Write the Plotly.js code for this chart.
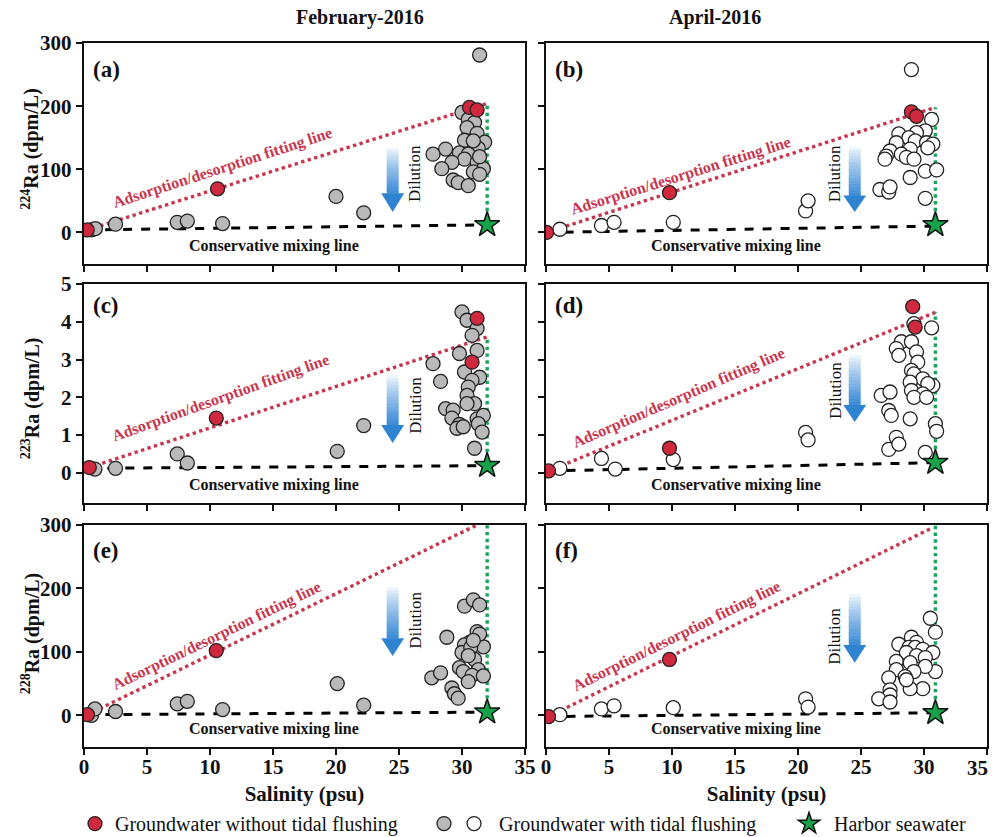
<!DOCTYPE html>
<html><head><meta charset="utf-8">
<script src="https://cdn.plot.ly/plotly-3.0.1.min.js"></script>
<style>html,body{margin:0;padding:0;background:#fff}#chart{width:992px;height:837px}</style>
</head><body><div id="chart"></div>
<script>
// ---------------- DATA ----------------
// Panel (a) Feb-2016, 224Ra
const a_noTidal_sal = [0.25, 10.6, 30.6, 31.2];
const a_noTidal_ra  = [4, 69, 198, 194];
const a_tidal_sal = [0.6, 0.9, 2.5, 7.4, 8.2, 11.0, 20.0, 22.2, 31.4,
  30.0, 30.5, 31.0, 30.4, 31.2, 30.2, 31.8, 31.3, 29.8, 28.7, 27.7, 30.5, 30.2, 31.2, 29.2,
  28.4, 31.7, 30.9, 31.4, 29.3, 29.7, 30.5, 31.4, 30.9];
const a_tidal_ra = [4, 6, 13, 16, 18, 14, 57, 31, 281,
  190, 179, 174, 166, 157, 146, 143, 133, 126, 132, 124, 124, 116, 111, 111,
  101, 101, 96, 92, 83, 79, 74, 120, 145];
const a_sea_sal = [32.0], a_sea_ra = [12];
const a_fit_sal = [0.25, 32.1], a_fit_ra = [4, 205];
const a_mix_sal = [0.25, 32.0], a_mix_ra = [4, 12];
const a_vert_sal = [32.0, 32.0], a_vert_ra = [12, 205];

// Panel (b) Apr-2016, 224Ra
const b_noTidal_sal = [0.05, 9.8, 29.0, 29.4];
const b_noTidal_ra  = [0, 63, 191, 184];
const b_tidal_sal = [1.1, 4.4, 5.4, 10.1, 20.6, 20.8, 26.5, 27.2, 27.3, 29.0, 30.1, 28.9, 30.1, 31.0,
  30.6, 30.1, 29.4, 28.0, 28.8, 27.8, 29.3, 30.2, 30.7, 30.3, 27.3, 28.9, 28.2, 27.0, 28.6, 29.2, 26.9];
const b_tidal_ra = [5, 11, 16, 16, 34, 50, 68, 64, 72, 258, 54, 87, 97, 99,
  179, 161, 158, 156, 150, 142, 145, 142, 140, 134, 129, 132, 124, 121, 119, 116, 116];
const b_sea_sal = [30.9], b_sea_ra = [12];
const b_fit_sal = [0.05, 30.9], b_fit_ra = [0, 198];
const b_mix_sal = [0.05, 30.9], b_mix_ra = [0, 10];
const b_vert_sal = [30.9, 30.9], b_vert_ra = [12, 198];

// Panel (c) Feb-2016, 223Ra
const c_noTidal_sal = [0.42, 10.5, 31.2, 30.8];
const c_noTidal_ra  = [0.14, 1.45, 4.09, 2.93];
const c_tidal_sal = [0.87, 2.5, 7.4, 8.2, 20.1, 22.2, 27.7, 28.3,
  30.0, 30.4, 31.2, 30.8, 31.2, 29.8, 31.4, 30.2, 30.8, 30.5, 30.4, 31.0, 30.4, 28.7, 29.3,
  29.2, 29.8, 29.6, 30.1, 31.2, 31.7, 31.3, 31.6, 31.0];
const c_tidal_ra = [0.10, 0.12, 0.50, 0.26, 0.57, 1.25, 2.89, 2.42,
  4.26, 4.04, 3.82, 3.64, 3.24, 3.16, 2.53, 2.67, 2.45, 2.27, 2.05, 1.83, 1.83, 1.70, 1.66,
  1.45, 1.28, 1.18, 1.22, 1.43, 1.52, 1.30, 1.08, 0.65];
const c_sea_sal = [32.0], c_sea_ra = [0.19];
const c_fit_sal = [0.42, 32.0], c_fit_ra = [0.14, 3.6];
const c_mix_sal = [0.42, 32.0], c_mix_ra = [0.12, 0.19];
const c_vert_sal = [32.0, 32.0], c_vert_ra = [0.19, 3.6];

// Panel (d) Apr-2016, 223Ra
const d_noTidal_sal = [0.2, 9.8, 29.1, 29.3];
const d_noTidal_ra  = [0.05, 0.65, 4.40, 3.86];
const d_tidal_sal = [1.1, 4.4, 5.5, 10.1, 20.6, 20.8, 26.6, 27.3, 27.2, 27.4, 27.8, 27.2, 28.0, 28.9,
  30.1, 30.6, 30.9, 31.0, 30.7, 29.2, 28.2, 29.0, 27.8, 28.0, 29.4, 29.5, 29.0, 29.2, 29.9,
  28.9, 30.3, 29.0, 29.9, 29.2, 30.2];
const d_tidal_ra = [0.12, 0.38, 0.10, 0.35, 1.07, 0.87, 2.05, 2.14, 1.65, 1.52, 0.94, 0.62, 0.76, 1.43,
  0.54, 3.84, 1.30, 1.10, 2.31, 3.95, 3.47, 3.47, 3.29, 3.11, 3.20, 2.93, 2.71, 2.62, 2.49,
  2.40, 2.36, 2.18, 2.09, 2.00, 2.00];
const d_sea_sal = [30.9], d_sea_ra = [0.27];
const d_fit_sal = [0.2, 30.9], d_fit_ra = [0.05, 4.25];
const d_mix_sal = [0.2, 30.9], d_mix_ra = [0.05, 0.27];
const d_vert_sal = [30.9, 30.9], d_vert_ra = [0.27, 4.25];

// Panel (e) Feb-2016, 228Ra
const e_noTidal_sal = [0.27, 10.5];
const e_noTidal_ra  = [1, 102];
const e_tidal_sal = [0.6, 0.87, 2.5, 7.4, 8.2, 11.0, 20.1, 22.2, 27.6, 28.3, 28.8,
  30.2, 30.9, 31.4, 31.2, 30.6, 31.7, 30.2, 30.0, 30.7, 31.0, 30.5, 29.8, 30.1, 31.3, 30.8,
  31.7, 30.5, 29.2, 29.4, 29.7, 31.4, 30.9];
const e_tidal_ra = [0, 10, 6, 18, 22, 9, 50, 16, 59, 67, 123,
  172, 182, 174, 132, 115, 108, 111, 99, 107, 88, 94, 75, 69, 72, 63,
  62, 53, 43, 34, 27, 128, 118];
const e_sea_sal = [32.0], e_sea_ra = [5];
const e_fit_sal = [0.27, 31.2], e_fit_ra = [1, 300];
const e_mix_sal = [0.27, 32.0], e_mix_ra = [1, 5];
const e_vert_sal = [32.0, 32.0], e_vert_ra = [5, 300];

// Panel (f) Apr-2016, 228Ra
const f_noTidal_sal = [0.2, 9.8];
const f_noTidal_ra  = [-2, 88];
const f_tidal_sal = [1.1, 4.4, 5.4, 10.1, 20.6, 20.8, 30.5, 30.9, 29.0, 29.4, 28.0, 28.8, 29.3, 29.9,
  30.7, 28.6, 29.4, 30.1, 27.8, 28.9, 30.9, 30.1, 27.8, 29.2, 27.2, 28.5, 29.9, 28.9, 27.3,
  27.3, 26.4, 27.3, 28.6];
const f_tidal_ra = [1, 10, 15, 12, 26, 13, 153, 131, 123, 115, 112, 107, 107, 104,
  99, 99, 94, 91, 85, 83, 69, 77, 72, 69, 59, 61, 42, 42, 40,
  32, 26, 21, 56];
const f_sea_sal = [30.9], f_sea_ra = [4];
const f_fit_sal = [0.2, 30.6], f_fit_ra = [-2, 295];
const f_mix_sal = [0.2, 30.9], f_mix_ra = [-2, 4];
const f_vert_sal = [30.9, 30.9], f_vert_ra = [4, 300];

const xTicks = [0, 5, 10, 15, 20, 25, 30, 35];
const yTicksBig = [0, 100, 200, 300];
const yTicksSmall = [0, 1, 2, 3, 4, 5];
const panelLabels = ['(a)', '(b)', '(c)', '(d)', '(e)', '(f)'];
const columnTitles = ['February-2016', 'April-2016'];
const yTitles = ['<sup>224</sup>Ra (dpm/L)', '<sup>223</sup>Ra (dpm/L)', '<sup>228</sup>Ra (dpm/L)'];
const legendNames = ['Groundwater without tidal flushing', 'Groundwater with tidal flushing', 'Harbor seawater'];

// ---------------- STYLE ----------------
const SERIF = 'Liberation Serif, Times New Roman, serif';
const RED = '#d0283c', GREY = '#b9b9b9', GREEN = '#17a34a', FITRED = '#c8364e', VGREEN = '#1aa35a';

const panels = [
  {nt:[a_noTidal_sal,a_noTidal_ra], t:[a_tidal_sal,a_tidal_ra], s:[a_sea_sal,a_sea_ra], fit:[a_fit_sal,a_fit_ra], mix:[a_mix_sal,a_mix_ra], v:[a_vert_sal,a_vert_ra], fill:GREY},
  {nt:[b_noTidal_sal,b_noTidal_ra], t:[b_tidal_sal,b_tidal_ra], s:[b_sea_sal,b_sea_ra], fit:[b_fit_sal,b_fit_ra], mix:[b_mix_sal,b_mix_ra], v:[b_vert_sal,b_vert_ra], fill:'#ffffff'},
  {nt:[c_noTidal_sal,c_noTidal_ra], t:[c_tidal_sal,c_tidal_ra], s:[c_sea_sal,c_sea_ra], fit:[c_fit_sal,c_fit_ra], mix:[c_mix_sal,c_mix_ra], v:[c_vert_sal,c_vert_ra], fill:GREY},
  {nt:[d_noTidal_sal,d_noTidal_ra], t:[d_tidal_sal,d_tidal_ra], s:[d_sea_sal,d_sea_ra], fit:[d_fit_sal,d_fit_ra], mix:[d_mix_sal,d_mix_ra], v:[d_vert_sal,d_vert_ra], fill:'#ffffff'},
  {nt:[e_noTidal_sal,e_noTidal_ra], t:[e_tidal_sal,e_tidal_ra], s:[e_sea_sal,e_sea_ra], fit:[e_fit_sal,e_fit_ra], mix:[e_mix_sal,e_mix_ra], v:[e_vert_sal,e_vert_ra], fill:GREY},
  {nt:[f_noTidal_sal,f_noTidal_ra], t:[f_tidal_sal,f_tidal_ra], s:[f_sea_sal,f_sea_ra], fit:[f_fit_sal,f_fit_ra], mix:[f_mix_sal,f_mix_ra], v:[f_vert_sal,f_vert_ra], fill:'#ffffff'}
];

const traces = [];
panels.forEach((p, i) => {
  const xa = i === 0 ? 'x' : 'x' + (i + 1);
  const ya = i === 0 ? 'y' : 'y' + (i + 1);
  const base = {xaxis: xa, yaxis: ya, hoverinfo: 'skip'};
  traces.push(Object.assign({type:'scatter', mode:'lines', x:p.fit[0], y:p.fit[1], showlegend:false,
    line:{color:FITRED, width:3.4, dash:'dot'}}, base));
  traces.push(Object.assign({type:'scatter', mode:'lines', x:p.mix[0], y:p.mix[1], showlegend:false,
    line:{color:'#000', width:3, dash:'dash'}}, base));
  traces.push(Object.assign({type:'scatter', mode:'lines', x:p.v[0], y:p.v[1], showlegend:false,
    line:{color:VGREEN, width:3.4, dash:'dot'}}, base));
  const tid = Object.assign({type:'scatter', mode:'markers', x:p.t[0], y:p.t[1],
    marker:{size:14, color:p.fill, line:{color:'#222', width:1.3}}, showlegend:false}, base);
  traces.push(tid);
  const nt = Object.assign({type:'scatter', mode:'markers', x:p.nt[0], y:p.nt[1],
    marker:{size:14, color:RED, line:{color:'#222', width:1.3}}, showlegend:false}, base);
  traces.push(nt);
  const st = Object.assign({type:'scatter', mode:'markers', x:p.s[0], y:p.s[1],
    marker:{size:19, symbol:'star', color:GREEN, line:{color:'#111', width:1.5}}, showlegend:false}, base);
  traces.push(st);
  if (i === 0) {
    nt.showlegend = true; nt.name = legendNames[0]; nt.legend = 'legend';
    tid.showlegend = true; tid.name = '\u2009'; tid.legend = 'legend2';
    st.showlegend = true; st.name = '\u00a0' + legendNames[2]; st.legend = 'legend4';
  }
  if (i === 1) {
    tid.showlegend = true; tid.name = '\u00a0' + legendNames[1]; tid.legend = 'legend3';
  }
});

// ---------------- LAYOUT ----------------
const XL = [0.0847, 0.5292], XR = [0.5504, 0.995];
const ROWS = [[0.6846, 0.9486], [0.399, 0.6607], [0.1075, 0.3728]];
const tickFont = {family: SERIF, size: 21, color: '#111', weight: 'bold'};
function xAxis(i) {
  const bottom = i >= 4;
  const txt = xTicks.map(String);
  if (i === 5) txt[txt.length - 1] = '';   // drawn as an annotation so it stays inside the page
  const ax = {domain: (i % 2 === 0) ? XL : XR, range: [0, 35], tickvals: xTicks, ticktext: txt,
    showticklabels: bottom, showline: true, mirror: true, linewidth: 2.2, linecolor: '#111',
    ticks: 'outside', ticklen: 6, tickwidth: 2, tickcolor: '#111', showgrid: false, zeroline: false,
    tickfont: tickFont, ticklabeloverflow: 'allow', ticklabelstandoff: -6,
    anchor: i === 0 ? 'y' : 'y' + (i + 1), fixedrange: true};
  if (bottom) ax.title = {text: 'Salinity (psu)', font: {family: SERIF, size: 21, color: '#111', weight: 'bold'}, standoff: 8};
  return ax;
}
function yAxis(i) {
  const row = Math.floor(i / 2);
  const small = row === 1;
  const ax = {domain: ROWS[row], range: small ? [-0.8, 5] : [-50, 300],
    tickvals: small ? yTicksSmall : yTicksBig, ticktext: (small ? yTicksSmall : yTicksBig).map(String),
    showticklabels: i % 2 === 0, showline: true, mirror: true, linewidth: 2.2, linecolor: '#111',
    ticks: 'outside', ticklen: 6, tickwidth: 2, tickcolor: '#111', showgrid: false, zeroline: false,
    tickfont: tickFont, anchor: i === 0 ? 'x' : 'x' + (i + 1), fixedrange: true};
  return ax;
}

const legBase = {orientation: 'h', xanchor: 'left', y: 0.016, yanchor: 'middle',
  font: {family: SERIF, size: 20, color: '#111'}, itemsizing: 'trace', bgcolor: 'rgba(0,0,0,0)'};
const layout = {
  width: 992, height: 837, margin: {l: 0, r: 0, t: 0, b: 0, autoexpand: false},
  paper_bgcolor: '#fff', plot_bgcolor: '#fff',
  font: {family: SERIF, color: '#111'},
  showlegend: true,
  legend: Object.assign({}, legBase, {x: 0.0756}),
  legend2: Object.assign({}, legBase, {x: 0.4274}),
  legend3: Object.assign({}, legBase, {x: 0.4577}),
  legend4: Object.assign({}, legBase, {x: 0.7954}),
  annotations: [], shapes: []
};
for (let i = 0; i < 6; i++) {
  layout[i === 0 ? 'xaxis' : 'xaxis' + (i + 1)] = xAxis(i);
  layout[i === 0 ? 'yaxis' : 'yaxis' + (i + 1)] = yAxis(i);
}

// last tick label of the bottom-right axis (kept inside the page edge)
layout.annotations.push({text: '<b>' + xTicks[xTicks.length - 1] + '</b>', xref: 'paper', yref: 'paper',
  x: 0.998, y: 0.0824, xanchor: 'right', yanchor: 'middle', showarrow: false,
  font: {family: SERIF, size: 21, color: '#111'}});

// column titles
layout.annotations.push({text: '<b>' + columnTitles[0] + '</b>', xref: 'paper', yref: 'paper', x: 0.296, y: 0.979,
  yanchor: 'middle', showarrow: false, font: {family: SERIF, size: 20, color: '#111'}});
layout.annotations.push({text: '<b>' + columnTitles[1] + '</b>', xref: 'paper', yref: 'paper', x: 0.769, y: 0.979,
  yanchor: 'middle', showarrow: false, font: {family: SERIF, size: 20, color: '#111'}});

// y-axis titles (left column), rotated
const yTitlePos = [0.822, 0.524, 0.243];
yTitles.forEach((t, r) => {
  layout.annotations.push({text: '<b>' + t + '</b>', xref: 'paper', yref: 'paper', x: 0.031, y: yTitlePos[r],
    xanchor: 'center', yanchor: 'middle', textangle: -90, showarrow: false,
    font: {family: SERIF, size: 20, color: '#111'}});
});

// per-panel decorations (positions in axis-domain fractions)
const deco = [
  {lab: 0.878, ads: [0.313, 0.434, -18], dil: [0.75, 0.41], arr: [0.70, 0.525, 0.32, 0.235]},
  {lab: 0.878, ads: [0.304, 0.40, -17.4], dil: [0.655, 0.41], arr: [0.70, 0.53, 0.31, 0.235]},
  {lab: 0.904, ads: [0.31, 0.48, -19.8], dil: [0.75, 0.447], arr: [0.70, 0.584, 0.356, 0.274]},
  {lab: 0.904, ads: [0.30, 0.48, -23.4], dil: [0.655, 0.516], arr: [0.70, 0.676, 0.447, 0.37]},
  {lab: 0.887, ads: [0.30, 0.50, -25.8], dil: [0.75, 0.572], arr: [0.70, 0.72, 0.49, 0.41]},
  {lab: 0.887, ads: [0.297, 0.50, -26.3], dil: [0.655, 0.50], arr: [0.70, 0.69, 0.46, 0.38]}
];
deco.forEach((d, i) => {
  const xr = (i === 0 ? 'x' : 'x' + (i + 1)) + ' domain';
  const yr = (i === 0 ? 'y' : 'y' + (i + 1)) + ' domain';
  layout.annotations.push({text: '<b>' + panelLabels[i] + '</b>', xref: xr, yref: yr, x: 0.016, y: d.lab,
    xanchor: 'left', yanchor: 'middle', showarrow: false, font: {family: SERIF, size: 23, color: '#111'}});
  layout.annotations.push({text: '<b>Conservative mixing line</b>', xref: xr, yref: yr, x: 0.43, y: 0.083,
    xanchor: 'center', yanchor: 'middle', showarrow: false, font: {family: SERIF, size: 16, color: '#111'}});
  layout.annotations.push({text: '<b>Adsorption/desorption fitting line</b>', xref: xr, yref: yr, x: d.ads[0], y: d.ads[1],
    xanchor: 'center', yanchor: 'middle', textangle: d.ads[2], showarrow: false,
    font: {family: SERIF, size: 16, color: FITRED}});
  layout.annotations.push({text: 'Dilution', xref: xr, yref: yr, x: d.dil[0], y: d.dil[1],
    xanchor: 'center', yanchor: 'middle', textangle: -90, showarrow: false,
    font: {family: SERIF, size: 17, color: '#111'}});
  // gradient arrow
  const [cx, top, base, tip] = d.arr;
  const N = 16, hw = 0.0136, hh = 0.026;
  const c0 = [250, 252, 254], c1 = [58, 138, 214];
  for (let k = 0; k < N; k++) {
    const t = (k + 0.5) / N;
    const col = c0.map((v, j) => Math.round(v + (c1[j] - v) * Math.pow(t, 0.8)));
    layout.shapes.push({type: 'rect', xref: xr, yref: yr, x0: cx - hw, x1: cx + hw,
      y0: top - (top - base) * k / N, y1: top - (top - base) * (k + 1) / N - 0.002,
      fillcolor: 'rgb(' + col.join(',') + ')', line: {width: 0}, layer: 'below'});
  }
  layout.shapes.push({type: 'path', xref: xr, yref: yr,
    path: 'M ' + (cx - hh) + ',' + base + ' L ' + (cx + hh) + ',' + base + ' L ' + cx + ',' + tip + ' Z',
    fillcolor: '#2f84d2', line: {width: 0}, layer: 'below'});
});

Plotly.newPlot('chart', traces, layout, {displayModeBar: false, staticPlot: true});
</script></body></html>
